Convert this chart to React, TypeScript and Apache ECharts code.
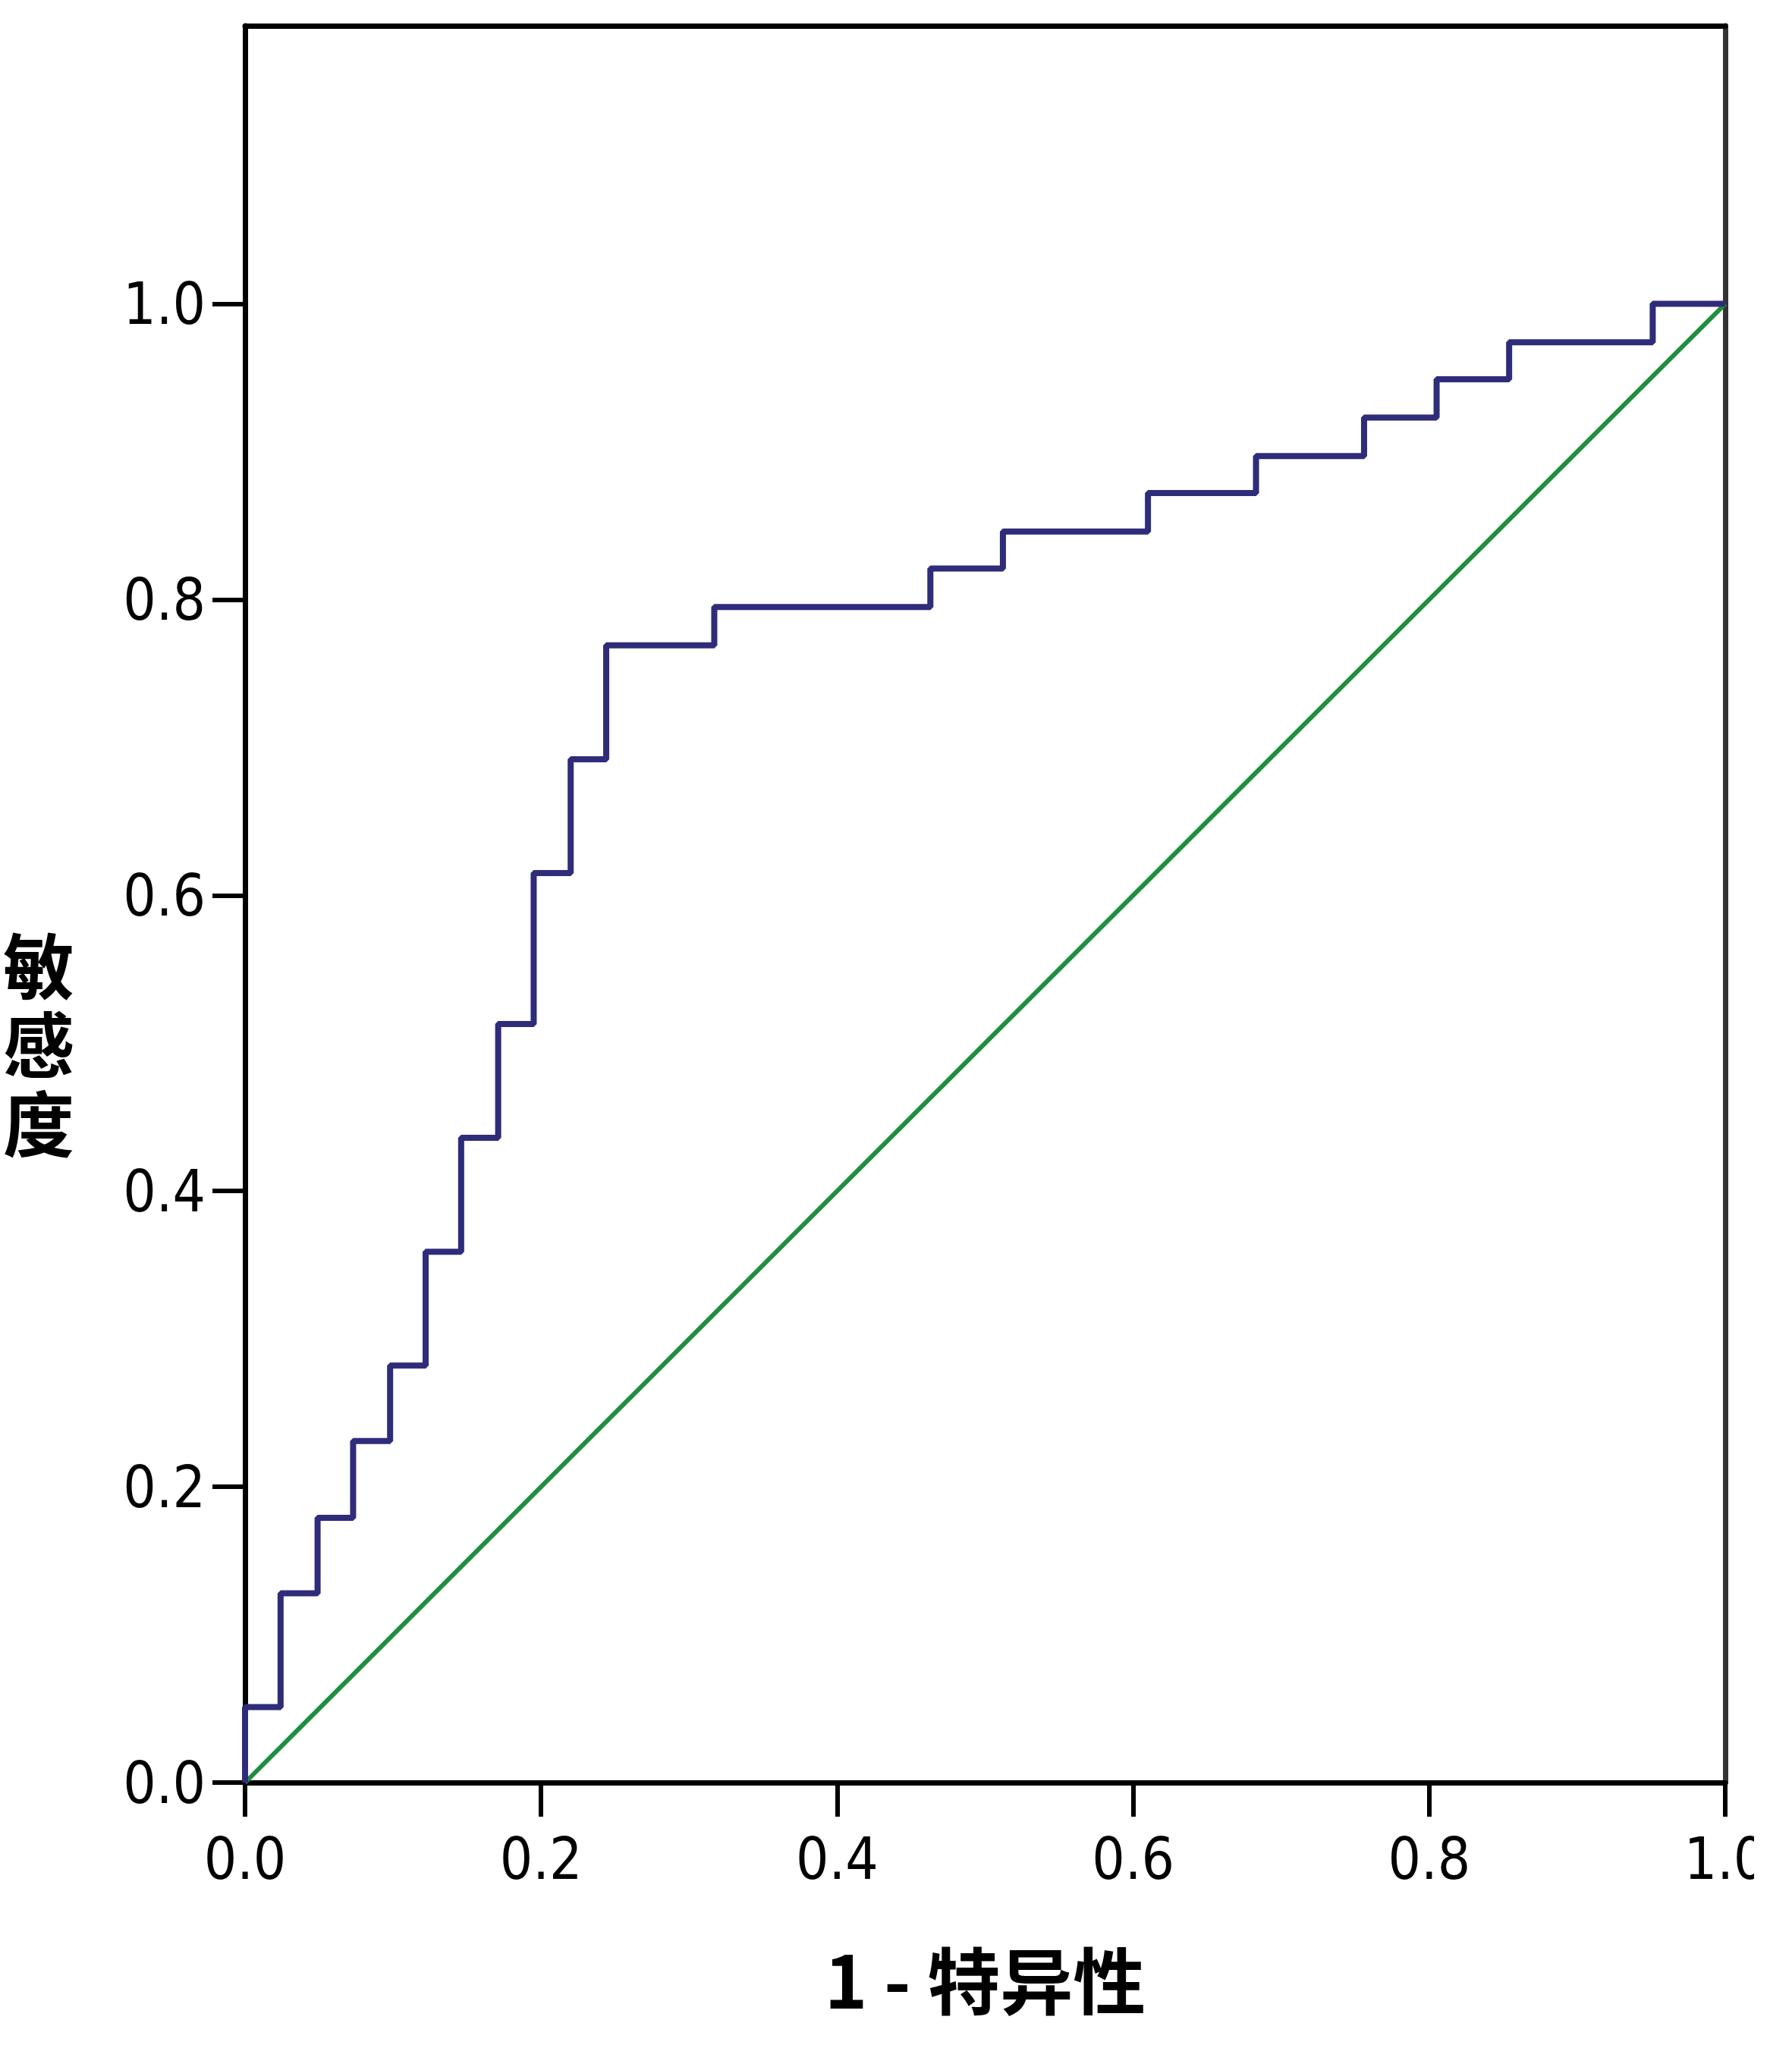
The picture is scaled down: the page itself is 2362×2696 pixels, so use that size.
import React, { useEffect, useRef } from "react";
import * as echarts from "echarts";

// ROC curve vertices (1 - specificity, sensitivity)
const fpr = [0, 0, 0.024, 0.049, 0.073, 0.098, 0.122, 0.146, 0.171, 0.195, 0.22, 0.244, 0.317, 0.463, 0.512, 0.61, 0.683, 0.756, 0.805, 0.854, 0.951, 1.0];
const tpr = [0, 0.051, 0.128, 0.179, 0.231, 0.282, 0.359, 0.436, 0.513, 0.615, 0.692, 0.769, 0.795, 0.821, 0.846, 0.872, 0.897, 0.923, 0.949, 0.974, 1.0, 1.0];

// reference (chance) line
const refX = [0, 1];
const refY = [0, 1];

const xTicks = [0, 0.2, 0.4, 0.6, 0.8, 1.0];
const yTicks = [0, 0.2, 0.4, 0.6, 0.8, 1.0];

const xTitle = "1 - 特异性";
const yTitleChars = ["敏", "感", "度"];

const LABEL_FONT = '"Liberation Sans Narrow", "DejaVu Sans Condensed", "Liberation Sans", sans-serif';
const CJK_FONT = '"Noto Sans CJK SC", "Noto Sans", sans-serif';

export default function App() {
  const ref = useRef<HTMLDivElement>(null);
  useEffect(() => {
    document.body.style.margin = "0";
    const chart = echarts.init(ref.current!, null, { renderer: "svg" });
    const rocData = fpr.map((x, i) => [x, tpr[i]]);
    const diagData = refX.map((x, i) => [x, refY[i]]);
    chart.setOption({
      animation: false,
      backgroundColor: "#ffffff",
      grid: { left: 323, right: 38, top: 34, bottom: 346, containLabel: false, outerBoundsMode: "none" },
      xAxis: [
        {
          type: "value",
          min: 0,
          max: 1,
          interval: 0.2,
          position: "bottom",
          axisLine: { show: true, onZero: false, lineStyle: { color: "#000", width: 7 } },
          axisTick: { show: true, length: 45, customValues: xTicks, lineStyle: { color: "#000", width: 6 } },
          axisLabel: {
            customValues: xTicks,
            formatter: (v: number) => v.toFixed(1),
            fontSize: 76,
            fontFamily: LABEL_FONT,
            color: "#000",
            margin: 62,
          },
          splitLine: { show: false },
          name: xTitle,
          nameLocation: "middle",
          nameGap: 208,
          nameTextStyle: { fontSize: 96, fontWeight: "bold", fontFamily: CJK_FONT, color: "#000" },
        },
        {
          type: "value",
          min: 0,
          max: 1,
          position: "top",
          axisLine: { show: true, onZero: false, lineStyle: { color: "#000", width: 7 } },
          axisTick: { show: false },
          axisLabel: { show: false },
          splitLine: { show: false },
        },
      ],
      yAxis: [
        {
          type: "value",
          min: 0,
          max: 1.188,
          position: "left",
          axisLine: { show: true, onZero: false, lineStyle: { color: "#000", width: 7 } },
          axisTick: { show: true, length: 43, customValues: yTicks, lineStyle: { color: "#000", width: 6 } },
          axisLabel: {
            customValues: yTicks,
            formatter: (v: number) => v.toFixed(1),
            fontSize: 76,
            fontFamily: LABEL_FONT,
            color: "#000",
            margin: 52,
          },
          splitLine: { show: false },
        },
        {
          type: "value",
          min: 0,
          max: 1.188,
          position: "right",
          axisLine: { show: true, onZero: false, lineStyle: { color: "#333", width: 7 } },
          axisTick: { show: false },
          axisLabel: { show: false },
          splitLine: { show: false },
        },
      ],
      graphic: yTitleChars.map((ch, i) => ({
        type: "text",
        left: 4,
        top: 1222 + i * 104,
        style: {
          text: ch,
          font: `bold 94px ${CJK_FONT}`,
          fill: "#000",
        },
      })),
      series: [
        {
          type: "line",
          data: diagData,
          showSymbol: false,
          lineStyle: { color: "#1f8f3f", width: 6 },
          z: 2,
        },
        {
          type: "line",
          data: rocData,
          step: "end",
          showSymbol: false,
          lineStyle: { color: "#2f2c7a", width: 8 },
          z: 3,
        },
      ],
    });
    return () => chart.dispose();
  }, []);
  return <div ref={ref} style={{ width: 2312, height: 2696, background: "#fff" }} />;
}
